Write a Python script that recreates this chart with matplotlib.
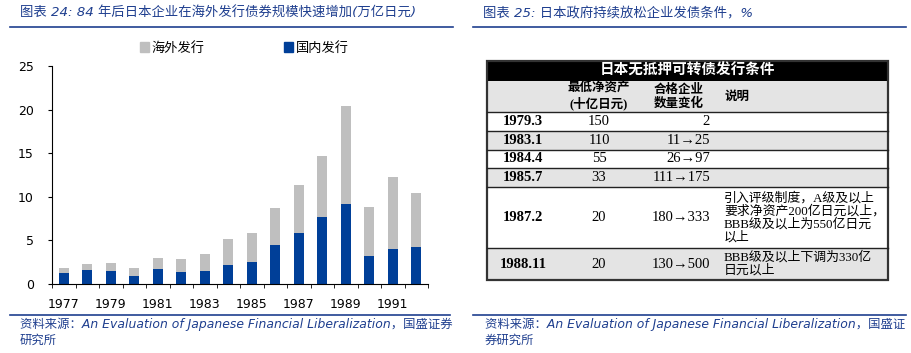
import numpy as np
import matplotlib.pyplot as plt
from matplotlib.patches import Rectangle, Patch

plt.rcParams['font.family'] = ['DejaVu Sans', 'Noto Sans CJK SC']

# 左图数据 (万亿日元)
years = np.arange(1977, 1993)
total = [1.87, 2.33, 2.44, 1.87, 3.02, 2.90, 3.47, 5.19, 5.88, 8.74, 11.37, 14.69, 20.42, 8.85, 12.29, 10.46]
domestic = [1.30, 1.64, 1.53, 0.95, 1.76, 1.41, 1.53, 2.21, 2.56, 4.50, 5.88, 7.71, 9.20, 3.24, 4.05, 4.27]
overseas = [t - d for t, d in zip(total, domestic)]

# 右表数据
table_title = '日本无抵押可转债发行条件'
col_heads = ['最低净资产\n(十亿日元)', '合格企业\n数量变化', '说明']
row_dates = ['1979.3', '1983.1', '1984.4', '1985.7', '1987.2', '1988.11']
min_assets = ['150', '110', '55', '33', '20', '20']
firm_counts = ['2', '11→25', '26→97', '111→175', '180→333', '130→500']
notes = ['', '', '', '',
         '引入评级制度，A级及以上\n要求净资产200亿日元以上，\nBBB级及以上为550亿日元\n以上',
         'BBB级及以上下调为330亿\n日元以上']

blue = '#003F98'
gray = '#BFBFBF'
title_blue = '#1F3F8F'
W, H = 911, 353

fig = plt.figure(figsize=(W / 100, H / 100), dpi=100)

# 背景层：标题、分隔线、来源、表格 (像素坐标)
bg = fig.add_axes([0, 0, 1, 1])
bg.set_xlim(0, W)
bg.set_ylim(H, 0)
bg.axis('off')

bg.text(20, 13, '图表 24: 84 年后日本企业在海外发行债券规模快速增加(万亿日元)', fontsize=9.6,
        style='italic', color=title_blue, va='center', ha='left')
bg.text(483, 14, '图表 25: 日本政府持续放松企业发债条件，%', fontsize=9.6,
        style='italic', color=title_blue, va='center', ha='left')
bg.plot([10, 453], [27, 27], color=title_blue, lw=1.2)
bg.plot([473, 906], [27, 27], color=title_blue, lw=1.2)
bg.plot([10, 450], [315, 315], color=title_blue, lw=1.2)
bg.plot([473, 906], [315, 315], color=title_blue, lw=1.2)
bg.text(20, 318, '资料来源：An Evaluation of Japanese Financial Liberalization，国盛证券\n研究所',
        fontsize=8.9, style='italic', color=title_blue, va='top', ha='left', linespacing=1.25)
bg.text(485, 318, '资料来源：An Evaluation of Japanese Financial Liberalization，国盛证\n券研究所',
        fontsize=8.9, style='italic', color=title_blue, va='top', ha='left', linespacing=1.25)

# 表格
serif = ['Liberation Serif', 'Noto Sans CJK SC']
tx0, tx1 = 487, 888
edges = [61, 81, 112, 131, 150, 168, 187, 248, 280]
fills = ['black', '#E4E4E4'] + ['white' if i % 2 == 0 else '#E4E4E4' for i in range(len(row_dates))]
for i, c in enumerate(fills):
    bg.add_patch(Rectangle((tx0, edges[i]), tx1 - tx0, edges[i + 1] - edges[i],
                           facecolor=c, edgecolor='none'))
for y in edges[2:-1]:
    bg.plot([tx0, tx1], [y, y], color='#222222', lw=1.0)
bg.add_patch(Rectangle((tx0, edges[0]), tx1 - tx0, edges[-1] - edges[0],
                       facecolor='none', edgecolor='#333333', lw=1.6))
bg.text((tx0 + tx1) / 2, 71, table_title, color='white', fontsize=10.5, fontweight='bold',
        ha='center', va='center', family=serif)
head_y = (edges[1] + edges[2]) / 2
for x, h in zip([599, 679, 737], col_heads):
    bg.text(x, head_y, h, fontsize=9, fontweight='bold', ha='center', va='center',
            family=serif, linespacing=1.15)
for i in range(len(row_dates)):
    yc = (edges[i + 2] + edges[i + 3]) / 2
    bg.text(523, yc, row_dates[i], fontsize=10.5, fontweight='bold', ha='center', va='center', family=serif)
    bg.text(599, yc, min_assets[i], fontsize=10.5, ha='center', va='center', family=serif)
    bg.text(710, yc, firm_counts[i], fontsize=10.5, ha='right', va='center', family=serif)
    if notes[i]:
        bg.text(724, yc, notes[i], fontsize=9.3, ha='left', va='center', family=serif, linespacing=1.05)

# 左图：堆积柱
ax = fig.add_axes([52 / W, 1 - 284 / H, (428 - 52) / W, (284 - 66) / H])
x = np.arange(len(years))
ax.bar(x, domestic, width=0.43, color=blue, label='国内发行')
ax.bar(x, overseas, width=0.43, bottom=domestic, color=gray, label='海外发行')
ax.set_xlim(-0.5, len(years) - 0.5)
ax.set_ylim(0, 25)
ax.set_yticks(range(0, 26, 5))
ax.set_xticks(x[::2])
ax.set_xticklabels([str(y) for y in years[::2]])
ax.set_xticks(np.arange(-0.5, len(years), 1), minor=True)
ax.tick_params(axis='x', which='major', length=0, pad=10, labelsize=9)
ax.tick_params(axis='x', which='minor', length=3, direction='out')
ax.tick_params(axis='y', length=3, direction='out', labelsize=9, pad=10)
for s in ['top', 'right']:
    ax.spines[s].set_visible(False)
ax.patch.set_alpha(0)

handles = [Patch(color=gray, label='海外发行'), Patch(color=blue, label='国内发行')]
fig.legend(handles=handles, loc='center left', bbox_to_anchor=(133 / W, 1 - 48 / H), ncol=2,
           frameon=False, fontsize=9.5, handlelength=0.7, handleheight=0.7, handletextpad=0.2,
           columnspacing=6.0, borderpad=0)

fig.savefig('out.png', dpi=100)
